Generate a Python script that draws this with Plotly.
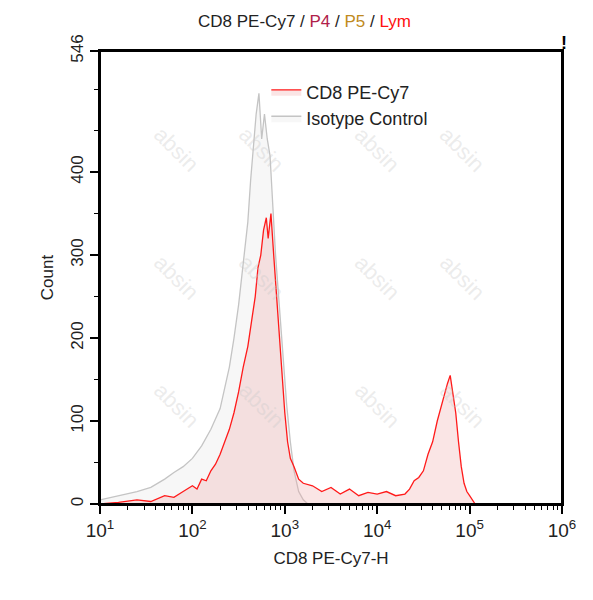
import plotly.graph_objects as go

# log10 of CD8 PE-Cy7-H and counts
cd8_logx = [1.0, 1.2, 1.4, 1.55, 1.7, 1.8, 1.9, 2.0, 2.05, 2.1, 2.15, 2.2, 2.25, 2.3, 2.35, 2.4, 2.45,
            2.5, 2.55, 2.6, 2.64, 2.68, 2.71, 2.74, 2.77, 2.8, 2.82, 2.85, 2.88, 2.91, 2.94, 2.97,
            3.0, 3.03, 3.06, 3.1, 3.15, 3.2, 3.3, 3.4, 3.5, 3.6, 3.7, 3.8, 3.9, 4.0, 4.1, 4.2,
            4.3, 4.35, 4.4, 4.45, 4.5, 4.55, 4.6, 4.65, 4.7, 4.73, 4.76, 4.79, 4.82, 4.85,
            4.88, 4.91, 4.94, 4.97, 5.0, 5.03, 5.06]
cd8_count = [0, 2, 5, 3, 10, 8, 15, 22, 18, 30, 28, 40, 48, 60, 75, 90, 110,
             135, 165, 190, 220, 250, 285, 300, 330, 345, 320, 350, 300, 250, 200, 150,
             110, 75, 55, 45, 30, 25, 22, 15, 20, 12, 18, 10, 14, 12, 15, 10,
             12, 18, 28, 32, 40, 60, 75, 100, 120, 135, 145, 155, 130, 110,
             75, 45, 25, 15, 10, 5, 0]

iso_logx = [1.0, 1.2, 1.4, 1.55, 1.7, 1.8, 1.9, 2.0, 2.1, 2.2, 2.3, 2.35, 2.4, 2.45, 2.5, 2.55,
            2.6, 2.63, 2.66, 2.69, 2.72, 2.75, 2.78, 2.81, 2.84, 2.87, 2.9, 2.94, 2.98, 3.02,
            3.06, 3.1, 3.15, 3.2, 3.25]
iso_count = [5, 10, 15, 20, 30, 38, 45, 55, 70, 90, 115, 140, 165, 200, 240, 290,
             340, 390, 430, 470, 495, 440, 470, 440, 420, 360, 300, 240, 180, 120,
             75, 40, 15, 5, 0]

xtick_vals = [1, 2, 3, 4, 5, 6]
ytick_vals = [0, 100, 200, 300, 400, 546]

fig = go.Figure()
fig.add_trace(go.Scatter(x=[10 ** v for v in iso_logx], y=iso_count, name="Isotype Control",
                         mode="lines", line=dict(color="#c4c4c4", width=1.3),
                         fill="tozeroy", fillcolor="rgba(225,225,225,0.25)"))
fig.add_trace(go.Scatter(x=[10 ** v for v in cd8_logx], y=cd8_count, name="CD8 PE-Cy7",
                         mode="lines", line=dict(color="#ff1a1a", width=1.3),
                         fill="tozeroy", fillcolor="rgba(240,170,170,0.3)"))

fig.update_layout(
    width=593, height=600,
    margin=dict(l=92, r=39, t=43, b=104),
    plot_bgcolor="white", paper_bgcolor="white",
    font=dict(family="Liberation Sans, Arial", size=17, color="#222"),
    title=dict(text="CD8 PE-Cy7 / <span style='color:#b0204a'>P4</span> / "
                    "<span style='color:#c08a20'>P5</span> / <span style='color:#ff1010'>Lym</span>",
               x=0.5, xanchor="center", y=0.988, yanchor="top", font=dict(size=17)),
    legend=dict(x=0.36, y=0.95, xanchor="left", yanchor="top", traceorder="reversed",
                bgcolor="rgba(0,0,0,0)", font=dict(size=18)),
    showlegend=True,
)
axis_style = dict(showgrid=False, showline=True, linecolor="#000000", linewidth=2, mirror=True,
                  ticks="outside", ticklen=8, tickwidth=2, tickcolor="#000000", zeroline=False)
fig.update_xaxes(type="log", range=[1, 6], **axis_style,
                 tickvals=[10 ** v for v in xtick_vals],
                 ticktext=["10<sup>%d</sup>" % v for v in xtick_vals],
                 minor=dict(ticks="outside", ticklen=4, tickcolor="#000000", tickwidth=1,
                            tickvals=[m * 10 ** d for d in range(1, 6) for m in range(2, 10)],
                            showgrid=False),
                 title=dict(text="CD8 PE-Cy7-H", font=dict(size=17), standoff=12),
                 tickfont=dict(size=19))
fig.update_yaxes(range=[0, 546], **axis_style,
                 tickvals=ytick_vals, tickangle=-90, tickfont=dict(size=17),
                 minor=dict(ticks="outside", ticklen=4, tickcolor="#000000", tickwidth=1,
                            tickvals=[50, 150, 250, 350, 450, 500]),
                 title=dict(text="Count", font=dict(size=17), standoff=10))

# plot frame
fig.add_shape(type="rect", xref="paper", yref="paper", x0=0, y0=0, x1=1, y1=1,
              line=dict(color="#000000", width=2), layer="above")

fig.add_annotation(text="<b>!</b>", x=1.005, y=1.045, xref="paper", yref="paper",
                   showarrow=False, xanchor="center", font=dict(size=18, color="black"))

# faint watermark
for wx in [0.1, 0.35, 0.6, 0.85]:
    for wy in [0.15, 0.5, 0.85]:
        fig.add_annotation(text="absin", x=wx, y=wy, xref="paper", yref="paper", showarrow=False,
                           textangle=45, font=dict(size=22, color="rgba(200,200,200,0.35)"))

fig.write_html("out.html")
